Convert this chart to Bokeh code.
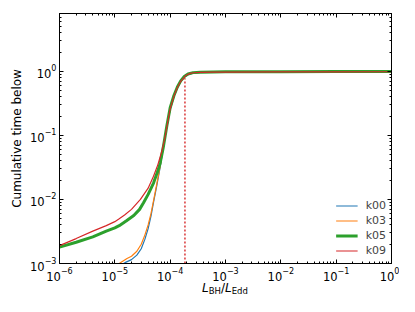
from bokeh.plotting import figure
from bokeh.layouts import column
from bokeh.models import LogAxis, FixedTicker, Legend, LegendItem, CustomJSTickFormatter, Div
from bokeh.embed import file_html
from bokeh.resources import INLINE

# ---- data ----
k00_x = [1.3e-5, 1.6e-5, 2.0e-5, 2.5e-5, 3.0e-5, 3.5e-5, 4.0e-5, 4.5e-5, 5.0e-5, 5.7e-5, 6.6e-5, 7.5e-5, 8.7e-5,
         1.0e-4, 1.17e-4, 1.35e-4, 1.55e-4, 1.8e-4, 2.1e-4, 2.6e-4, 3.5e-4, 6e-4, 1e-3, 1e-2, 1e-1, 1.0]
k00_y = [9.5e-4, 1.05e-3, 1.15e-3, 1.35e-3, 1.7e-3, 2.4e-3, 3.5e-3, 5.5e-3, 9.0e-3, 1.6e-2, 3.2e-2, 6.3e-2, 0.135,
         0.25, 0.40, 0.55, 0.69, 0.81, 0.89, 0.94, 0.965, 0.975, 0.978, 0.982, 0.986, 0.99]

k03_x = [1.1e-5, 1.3e-5, 1.66e-5, 2.0e-5, 2.5e-5, 3.0e-5, 3.5e-5, 4.0e-5, 4.5e-5, 5.0e-5, 5.7e-5, 6.6e-5, 7.5e-5, 8.7e-5,
         1.0e-4, 1.17e-4, 1.35e-4, 1.55e-4, 1.8e-4, 2.1e-4, 2.6e-4, 3.5e-4, 6e-4, 1e-3, 1e-2, 1e-1, 1.0]
k03_y = [9.5e-4, 1.05e-3, 1.2e-3, 1.3e-3, 1.55e-3, 2.0e-3, 2.8e-3, 4.0e-3, 6.0e-3, 9.5e-3, 1.7e-2, 3.3e-2, 6.5e-2, 0.14,
         0.26, 0.41, 0.56, 0.70, 0.82, 0.90, 0.945, 0.967, 0.976, 0.979, 0.983, 0.987, 0.99]

k05_x = [1e-6, 2e-6, 4e-6, 7e-6, 1.0e-5, 1.2e-5, 1.6e-5, 2.2e-5, 2.8e-5, 3.3e-5, 4.0e-5, 5.0e-5, 6.0e-5, 6.6e-5, 7.5e-5, 8.7e-5,
         1.0e-4, 1.17e-4, 1.35e-4, 1.55e-4, 1.8e-4, 2.1e-4, 2.6e-4, 3.5e-4, 6e-4, 1e-3, 1e-2, 1e-1, 1.0]
k05_y = [1.8e-3, 2.15e-3, 2.6e-3, 3.2e-3, 3.6e-3, 3.9e-3, 4.6e-3, 5.6e-3, 7.0e-3, 8.9e-3, 1.2e-2, 1.8e-2, 2.8e-2, 3.7e-2, 6.5e-2, 0.14,
         0.27, 0.42, 0.57, 0.71, 0.83, 0.91, 0.955, 0.972, 0.98, 0.983, 0.987, 0.991, 0.995]

k09_x = [1e-6, 2e-6, 4e-6, 7e-6, 1.0e-5, 1.2e-5, 1.5e-5, 2.0e-5, 2.9e-5, 4.0e-5, 5.0e-5, 6.0e-5, 7.0e-5, 8.0e-5, 9.0e-5,
         1.0e-4, 1.17e-4, 1.35e-4, 1.55e-4, 1.9e-4, 2.3e-4, 2.7e-4, 3.5e-4, 6e-4, 1e-3, 1e-2, 1e-1, 1.0]
k09_y = [1.9e-3, 2.45e-3, 3.2e-3, 3.9e-3, 4.5e-3, 5.0e-3, 5.7e-3, 7.0e-3, 1.0e-2, 1.5e-2, 2.3e-2, 3.5e-2, 5.5e-2, 9.0e-2, 0.16,
         0.26, 0.41, 0.56, 0.70, 0.86, 0.93, 0.95, 0.965, 0.972, 0.975, 0.978, 0.982, 0.985]

series_names = ["k00", "k03", "k05", "k09"]
series_colors = ["#1f77b4", "#ff7f0e", "#2ca02c", "#d62728"]
series_widths = [1.2, 1.2, 3.0, 1.2]

vline_x = 1.85e-4
vline_y = [1e-3, 0.78]

x_major = [1e-6, 1e-5, 1e-4, 1e-3, 1e-2, 1e-1, 1e0]
y_major = [1e-3, 1e-2, 1e-1, 1e0]
x_minor = [m * d for d in [1e-6, 1e-5, 1e-4, 1e-3, 1e-2, 1e-1] for m in range(2, 10)]
y_minor = [m * d for d in [1e-3, 1e-2, 1e-1, 1e0] for m in range(2, 10)]

x_limits = (1e-6, 1.0)
y_limits = (1e-3, 8.0)

ylabel = "Cumulative time below"
xlabel_main = ["L", "L"]
xlabel_sub = ["BH", "Edd"]

FONT = "DejaVu Sans"

# ---- main figure ----
p = figure(width=399, height=283, x_axis_type="log", y_axis_type="log",
           x_range=x_limits, y_range=y_limits,
           output_backend="svg", toolbar_location=None,
           min_border_left=59, min_border_right=8, min_border_top=13, min_border_bottom=18)
p.grid.visible = False
p.outline_line_color = "black"
p.outline_line_width = 1
p.background_fill_color = "white"
p.border_fill_color = "white"


def style_axis(ax, major, minor, show_labels):
    ax.ticker = FixedTicker(ticks=major, minor_ticks=minor)
    ax.major_tick_in = 4
    ax.major_tick_out = 0
    ax.minor_tick_in = 2
    ax.minor_tick_out = 0
    ax.axis_line_color = "black"
    ax.major_tick_line_color = "black"
    ax.minor_tick_line_color = "black"
    ax.major_label_text_font = FONT
    ax.major_label_text_font_size = "11.5px" if show_labels else "0px"
    ax.major_label_text_color = "black"
    ax.major_label_standoff = 3 if show_labels else 0


style_axis(p.xaxis[0], x_major, x_minor, True)
style_axis(p.yaxis[0], y_major, y_minor, True)
p.yaxis[0].axis_label = ylabel
p.yaxis[0].axis_label_text_font = FONT
p.yaxis[0].axis_label_text_font_size = "12px"
p.yaxis[0].axis_label_text_font_style = "normal"
p.yaxis[0].axis_label_text_color = "black"
p.yaxis[0].axis_label_standoff = 3

top = LogAxis()
style_axis(top, x_major, x_minor, False)
top.formatter = CustomJSTickFormatter(code="return ''")
p.add_layout(top, "above")
right = LogAxis()
style_axis(right, y_major, y_minor, False)
right.formatter = CustomJSTickFormatter(code="return ''")
p.add_layout(right, "right")

all_x = [k00_x, k03_x, k05_x, k09_x]
all_y = [k00_y, k03_y, k05_y, k09_y]
items = []
for name, col, w, xs, ys in zip(series_names, series_colors, series_widths, all_x, all_y):
    r = p.line(xs, ys, line_color=col, line_width=w)
    items.append(LegendItem(label=name, renderers=[r]))

p.line([vline_x, vline_x], vline_y, line_color="#d62728", line_width=1.4, line_dash="2 2")

legend = Legend(items=items, location="bottom_right")
legend.border_line_alpha = 0
legend.background_fill_alpha = 0
legend.label_text_font = FONT
legend.label_text_font_size = "11px"
legend.glyph_width = 22
legend.glyph_height = 15
legend.label_height = 15
legend.label_standoff = 8
legend.spacing = 0
legend.padding = 2
legend.margin = 3
p.add_layout(legend, "center")

# ---- x-axis label: L_BH / L_Edd (HTML text under the frame) ----
sub_style = "font-size:8.5px;vertical-align:-2px;line-height:0;font-style:normal"
label_html = "<i>{0}</i><span style='{1}'>{2}</span>/<i>{3}</i><span style='{1}'>{4}</span>".format(
    xlabel_main[0], sub_style, xlabel_sub[0], xlabel_main[1], xlabel_sub[1])
xlab = Div(text=label_html, width=332, height=13, margin=(0, 8, 0, 59),
           styles={"text-align": "center", "font-family": FONT, "font-size": "12px",
                   "line-height": "11px", "color": "black", "overflow": "visible",
                   "white-space": "nowrap"})

layout = column(p, xlab, spacing=0)
open("out.html", "w").write(file_html(layout, INLINE))
